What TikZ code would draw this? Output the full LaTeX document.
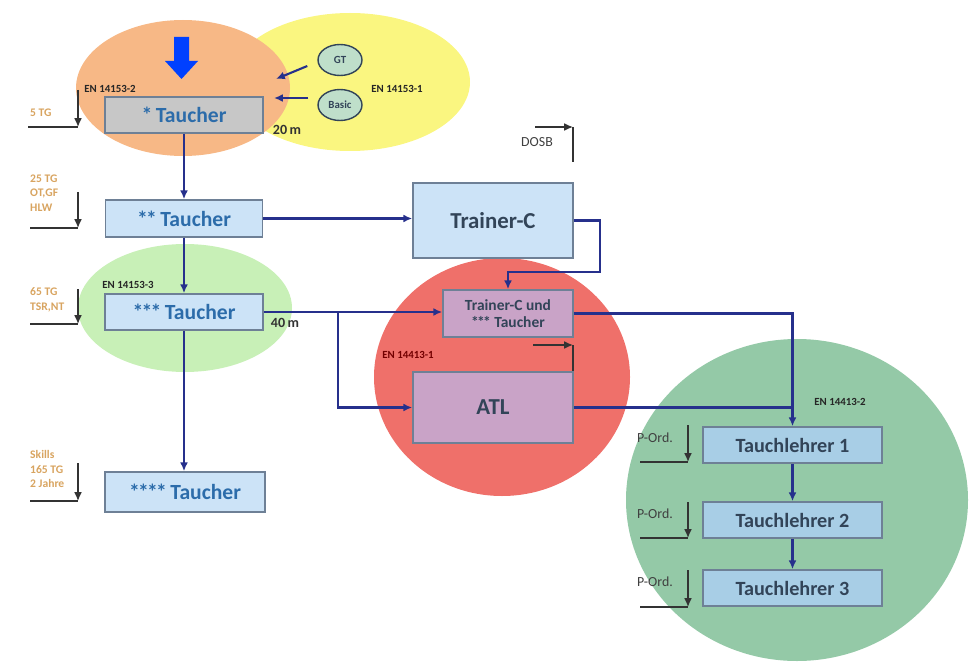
\documentclass[tikz,border=0pt]{standalone}
\usepackage{fontspec}
\setmainfont{Carlito}
\usetikzlibrary{arrows.meta, shapes.geometric}

\definecolor{peach}{RGB}{247,184,134}
\definecolor{lemon}{RGB}{250,246,128}
\definecolor{mint}{RGB}{200,240,183}
\definecolor{coral}{RGB}{239,112,106}
\definecolor{sea}{RGB}{148,201,167}
\definecolor{iceblue}{RGB}{204,227,247}
\definecolor{steelblue}{RGB}{168,206,230}
\definecolor{mauve}{RGB}{201,163,199}
\definecolor{frame}{RGB}{110,128,150}
\definecolor{navy}{RGB}{38,48,140}
\definecolor{tan}{RGB}{216,164,96}
\definecolor{diverblue}{RGB}{44,108,170}
\definecolor{slate}{RGB}{50,68,88}

\tikzset{
  stage/.style={draw=frame, line width=0.9pt, fill=iceblue, inner sep=0pt,
    font=\bfseries\fontsize{12.3}{14}\selectfont, text=diverblue},
  coach/.style={stage, text=slate, font=\bfseries\fontsize{13}{15}\selectfont},
  teacher/.style={stage, fill=steelblue, text=slate,
    font=\bfseries\fontsize{11.5}{13}\selectfont},
  conn/.style={navy, line width=1.2pt, -{Latex[length=5pt,width=4.5pt]}},
  plain/.style={navy, line width=1.2pt},
  brk/.style={black!80, line width=0.9pt, -{Latex[length=5pt,width=4.5pt]}},
  brkline/.style={black!80, line width=0.9pt},
  norm/.style={font=\bfseries\fontsize{6.2}{7}\selectfont, text=black!85},
  req/.style={font=\bfseries\fontsize{6.6}{8.2}\selectfont, text=tan, align=left, anchor=west},
  pord/.style={font=\fontsize{7.9}{9}\selectfont, text=black!75},
  badge/.style={ellipse, draw=slate, line width=0.8pt, fill=sea!60!white,
    minimum width=0.88cm, minimum height=0.62cm, inner sep=0pt,
    font=\bfseries\fontsize{6.2}{7}\selectfont, text=slate}
}

\begin{document}
\begin{tikzpicture}[x=0.02cm, y=-0.02cm]
  \useasboundingbox (0,0) rectangle (973,662);

  % norm areas
  \fill[lemon] (350,82) ellipse (120 and 69);
  \fill[peach] (183,88) ellipse (107 and 68);
  \fill[mint] (185,308) ellipse (107 and 64);
  \fill[coral] (502,377) ellipse (128 and 119);
  \fill[sea] (797,500) ellipse (171 and 161);

  % entry arrow
  \fill[blue!75!cyan] (174,37) -- (189,37) -- (189,61) -- (198,61) -- (181.5,79)
    -- (165,61) -- (174,61) -- cycle;

  % diver grades
  \node[stage, fill=black!22, minimum width=3.16cm, minimum height=0.72cm] (t1) at (184,115) {*\,Taucher};
  \node[stage, minimum width=3.14cm, minimum height=0.74cm] (t2) at (184,218.5) {*\kern-1pt*\,Taucher};
  \node[stage, minimum width=3.16cm, minimum height=0.72cm] (t3) at (184,312) {*\kern-1pt*\kern-1pt*\,Taucher};
  \node[stage, minimum width=3.2cm, minimum height=0.8cm] (t4) at (185,492) {*\kern-1pt*\kern-1pt*\kern-1pt*\,Taucher};

  % trainer and instructor boxes
  \node[coach, minimum width=3.2cm, minimum height=1.5cm] (trc) at (493,220.5) {Trainer-C};
  \node[coach, fill=mauve, minimum width=2.6cm, minimum height=0.94cm, align=center,
    font=\bfseries\fontsize{8.8}{10}\selectfont] (tru) at (508,313.5) {Trainer-C und\\*\kern-1pt*\kern-1pt* Taucher};
  \node[coach, fill=mauve, minimum width=3.2cm, minimum height=1.42cm] (atl) at (493,407.5) {ATL};
  \node[teacher, minimum width=3.58cm, minimum height=0.72cm] (tl1) at (792.5,445) {Tauchlehrer 1};
  \node[teacher, minimum width=3.58cm, minimum height=0.72cm] (tl2) at (792.5,520) {Tauchlehrer 2};
  \node[teacher, minimum width=3.58cm, minimum height=0.72cm] (tl3) at (792.5,588) {Tauchlehrer 3};

  % entry courses
  \node[badge] (gt) at (340,60) {GT};
  \node[badge] (basic) at (340,105) {Basic};
  \coordinate (gtend) at (276,79);
  \coordinate (basicend) at (274,98);
  \draw[conn] (gt.west) ++(-10,6) -- (gtend);
  \draw[conn] (basic.west) ++(-9,-7) -- (basicend);

  % norm labels
  \node[norm] (en1) at (110,89) {EN 14153-2};
  \node[norm] (en2) at (397,89) {EN 14153-1};
  \node[norm] (en3) at (128,285) {EN 14153-3};
  \node[norm, text=red!45!black] (en4) at (408,355) {EN 14413-1};
  \node[norm] (en5) at (840,402) {EN 14413-2};
  \node[font=\bfseries\fontsize{8}{9}\selectfont, text=black!80] (d20) at (287,130) {20\,m};
  \node[font=\bfseries\fontsize{8}{9}\selectfont, text=black!80] (d40) at (285,323) {40\,m};
  \node[pord] (dosb) at (537,142) {DOSB};

  % requirements
  \node[req] (r1) at (24,113) {5 TG};
  \node[req] (r2) at (24,193) {25 TG\\OT,GF\\HLW};
  \node[req] (r3) at (24,300) {65 TG\\TSR,NT};
  \node[req] (r4) at (24,469) {Skills\\165 TG\\2 Jahre};
  \node[pord] (p1) at (655,438) {P-Ord.};
  \node[pord] (p2) at (655,514) {P-Ord.};
  \node[pord] (p3) at (655,582) {P-Ord.};

  % requirement brackets
  \foreach \x/\top/\bot/\l in {78/90/127/28, 78/192/228/30, 78/289/324/30,
      78/463/501/30, 688/425/462/640, 688/502/538/640, 688/570/607/640} {
    \draw[brk] (\x,\top) -- (\x,\bot);
    \draw[brkline] (\l,\bot) -- (\x,\bot);
  }
  \draw[brk] (535,127) -- (573,127);
  \draw[brkline] (573,127) -- (573,162);
  \coordinate (atlmark) at (573,345);
  \draw[brk] (533,345) -- (atlmark);
  \draw[brkline] (atlmark) -- (atlmark |- atl.north);

  % career paths
  \draw[conn] (t1) -- (t2);
  \draw[conn] (t2) -- (t3);
  \draw[conn] (t3.south) -- (t3.south |- t4.north);
  \draw[conn] (t2.east) -- (t2.east -| trc.west);
  \draw[conn] (trc.east) -| (600,272) -| (tru.north);
  \draw[conn] (t3.east) -- (t3.east -| tru.west);
  \coordinate (fork) at (338,312);
  \draw[conn] (fork) |- (atl.west);
  \draw[conn] (tru.east) -| (tl1.north);
  \draw[plain] (atl.east) -- (atl.east -| tl1.north);
  \draw[conn] (tl1) -- (tl2);
  \draw[conn] (tl2) -- (tl3);
\end{tikzpicture}
\end{document}
